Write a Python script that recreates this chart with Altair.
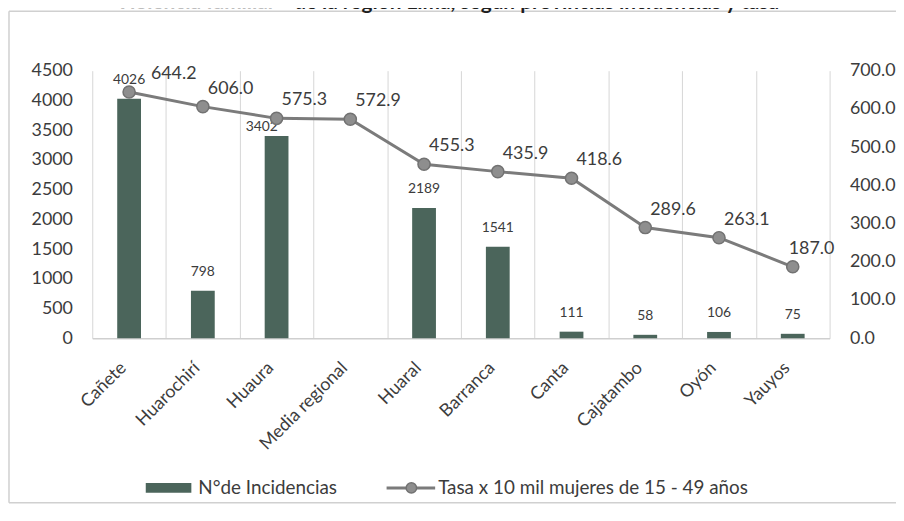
import altair as alt
import pandas as pd

provincias = ["Cañete", "Huarochirí", "Huaura", "Media regional", "Huaral",
              "Barranca", "Canta", "Cajatambo", "Oyón", "Yauyos"]
incidencias = [4026, 798, 3402, None, 2189, 1541, 111, 58, 106, 75]
tasa = [644.2, 606.0, 575.3, 572.9, 455.3, 435.9, 418.6, 289.6, 263.1, 187.0]
left_ticks = [0, 500, 1000, 1500, 2000, 2500, 3000, 3500, 4000, 4500]
right_ticks = [0, 100, 200, 300, 400, 500, 600, 700]
serie_barras = "N°de Incidencias"
serie_linea = "Tasa x 10 mil mujeres de 15 - 49 años"
titulo_claro = "Violencia familiar"
titulo_oscuro = "de la región Lima, según provincias incidencias y tasa"

df = pd.DataFrame({"provincia": provincias, "incidencias": incidencias, "tasa": tasa})

FONT = "Lato"
BAR = "#4b655b"
LINE = "#7b7b7b"
TXT = "#3c3c3c"

base = alt.Chart(df)

x = alt.X("provincia:N", sort=provincias,
          scale=alt.Scale(paddingInner=0, paddingOuter=0),
          axis=alt.Axis(title=None, labelAngle=-45, labelAlign="right", labelBaseline="middle",
                        labelPadding=27, labelOffset=-6, labelFontSize=18, labelFont=FONT,
                        labelColor=TXT,
                        grid=True, tickBand="extent", gridColor="#d6d6d6", gridWidth=1,
                        ticks=False, domain=True, domainColor="#cfcfcf", domainWidth=1.5))

yl = alt.Y("incidencias:Q", scale=alt.Scale(domain=[0, 4500], nice=False),
           axis=alt.Axis(title=None, values=left_ticks, format="d", grid=False, ticks=False,
                         domain=False, labelPadding=20, labelFontSize=18, labelFont=FONT,
                         labelColor=TXT))

yr = alt.Y("tasa:Q", scale=alt.Scale(domain=[0, 700], nice=False),
           axis=alt.Axis(title=None, orient="right", values=right_ticks, format=".1f",
                         grid=False, ticks=False, domain=False,
                         labelPadding=20, labelFontSize=18, labelFont=FONT, labelColor=TXT))

bars_src = base.transform_filter("isValid(datum.incidencias)")
bars = bars_src.mark_bar(size=24, color=BAR).encode(x=x, y=yl)
bar_text_main = bars_src.transform_filter("datum.provincia != 'Huaura'").mark_text(
    baseline="middle", dy=-19, fontSize=14, font=FONT, color=TXT).encode(
    x=x, y=yl, text=alt.Text("incidencias:Q", format="d"))
bar_text_huaura = bars_src.transform_filter("datum.provincia == 'Huaura'").mark_text(
    baseline="middle", dx=-15, dy=-9, fontSize=14, font=FONT, color=TXT).encode(
    x=x, y=yl, text=alt.Text("incidencias:Q", format="d"))
left_layer = alt.layer(bars, bar_text_main, bar_text_huaura)

line = base.mark_line(color=LINE, strokeWidth=3).encode(x=x, y=yr)
pts = base.mark_circle(size=150, color="#8e8e8e", stroke="#727272", strokeWidth=1.5,
                       opacity=1).encode(x=x, y=yr)


def tasa_labels(filt, dx):
    return base.transform_filter(filt).mark_text(
        align="left", baseline="middle", dx=dx, dy=-18, fontSize=18, font=FONT,
        color=TXT).encode(x=x, y=yr, text=alt.Text("tasa:Q", format=".1f"))


lt_mid = tasa_labels("datum.provincia != 'Cañete' && datum.provincia != 'Yauyos'", 5)
lt_first = tasa_labels("datum.provincia == 'Cañete'", 22)
lt_last = tasa_labels("datum.provincia == 'Yauyos'", -4)
right_layer = alt.layer(line, pts, lt_mid, lt_first, lt_last)

one = alt.Chart(alt.Data(values=[{"k": 1}]))

BORDER = "#d0d0d0"
b_top = one.mark_rule(color=BORDER, strokeWidth=1.5).encode(
    x=alt.value(-84), x2=alt.value(811), y=alt.value(-60))
b_left = one.mark_rule(color=BORDER, strokeWidth=1.5).encode(
    x=alt.value(-84), y=alt.value(-60), y2=alt.value(436))
b_bottom = one.mark_rule(color=BORDER, strokeWidth=1.5).encode(
    x=alt.value(-84), x2=alt.value(811), y=alt.value(436))

t1 = one.mark_text(align="right", baseline="alphabetic", fontSize=21, fontWeight="bold",
                   font=FONT, color="#bdbdbd").encode(
    x=alt.value(185), y=alt.value(-62), text=alt.value(titulo_claro))
t2 = one.mark_text(align="right", baseline="alphabetic", fontSize=21, fontWeight="bold",
                   font=FONT, color="#1e1e1e").encode(
    x=alt.value(693), y=alt.value(-62), text=alt.value(titulo_oscuro))

leg_y = 421
leg_rect = one.mark_rect(color=BAR).encode(
    x=alt.value(54), x2=alt.value(100), y=alt.value(leg_y - 5), y2=alt.value(leg_y + 5))
leg_t1 = one.mark_text(align="left", baseline="middle", fontSize=19, font=FONT,
                       color=TXT).encode(
    x=alt.value(107), y=alt.value(leg_y), text=alt.value(serie_barras))
leg_line = one.mark_rule(color=LINE, strokeWidth=3).encode(
    x=alt.value(297), x2=alt.value(346), y=alt.value(leg_y))
leg_pt = one.mark_circle(size=110, color="#8e8e8e", stroke="#727272", strokeWidth=1.5,
                         opacity=1).encode(x=alt.value(322), y=alt.value(leg_y))
leg_t2 = one.mark_text(align="left", baseline="middle", fontSize=19, font=FONT,
                       color=TXT).encode(
    x=alt.value(349), y=alt.value(leg_y), text=alt.value(serie_linea))

deco = alt.layer(b_top, b_left, b_bottom, t1, t2, leg_rect, leg_t1, leg_line, leg_pt, leg_t2)

chart = alt.layer(left_layer, right_layer, deco).resolve_scale(y="independent").properties(
    width=744, height=270,
    autosize=alt.AutoSizeParams(type="none"),
    padding={"left": 85, "top": 61, "right": 67, "bottom": 167},
    background="white",
).configure_view(stroke=None)

chart.save("out.html", embed_options={"renderer": "svg", "actions": False})
